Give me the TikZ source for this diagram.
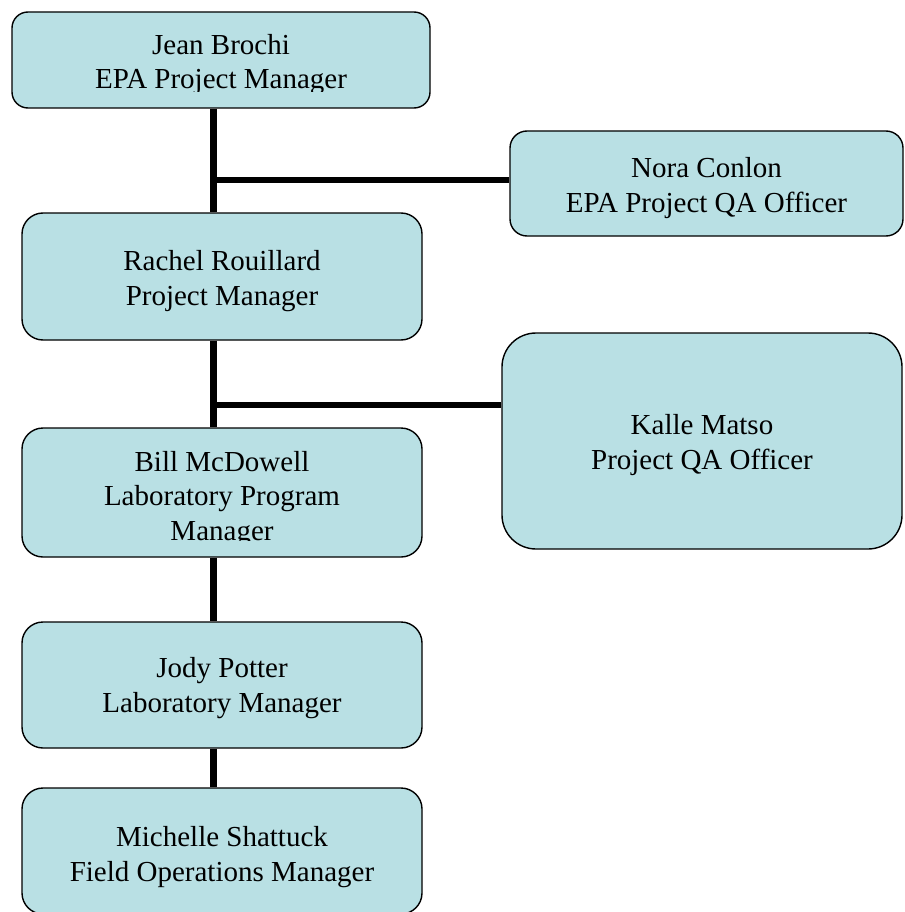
\documentclass[tikz,border=0pt]{standalone}
\usepackage{fontspec}
\setmainfont{Liberation Serif}
\usetikzlibrary{backgrounds}
\definecolor{boxfill}{RGB}{185,224,228}
\tikzset{
  orgbox/.style={draw=black, line width=1.4pt, fill=boxfill, rounded corners=#1, inner sep=0pt},
  orgbox/.default=21pt,
  orgtext/.style={align=center, anchor=base, inner sep=0pt, font=\fontsize{29}{34.5}\selectfont},
  link/.style={line width=6.8pt, black}
}
\begin{document}
\begin{tikzpicture}[x=1pt,y=-1pt]
\useasboundingbox (0,0) rectangle (904,912);
% boxes
\node[orgbox=16pt, minimum width=418pt, minimum height=96pt] (jean) at (221,60) {};
\node[orgbox=17pt, minimum width=393pt, minimum height=105pt] (nora) at (706.5,183.5) {};
\node[orgbox=21pt, minimum width=400pt, minimum height=127pt] (rachel) at (222,276.5) {};
\node[orgbox=34pt, minimum width=400pt, minimum height=216pt] (kalle) at (702,441) {};
\node[orgbox=21pt, minimum width=400pt, minimum height=129pt] (bill) at (222,492.5) {};
\node[orgbox=21pt, minimum width=400pt, minimum height=126pt] (jody) at (222,685) {};
\node[orgbox=21pt, minimum width=400pt, minimum height=126pt] (michelle) at (222,851) {};
% texts (base anchor = baseline of the last line)
\begin{scope}
\clip (jean.north west) rectangle ([yshift=17pt]jean.south east);
\node[orgtext] (jeanT) at (221,89) {Jean Brochi\\EPA Project Manager};
\end{scope}
\node[orgtext] (noraT) at (706.5,212) {Nora Conlon\\EPA Project QA Officer};
\node[orgtext] (rachelT) at (222,305) {Rachel Rouillard\\Project Manager};
\node[orgtext] (kalleT) at (702,469) {Kalle Matso\\Project QA Officer};
\begin{scope}
\clip (bill.north west) rectangle ([yshift=17pt]bill.south east);
\node[orgtext] (billT) at (222,540) {Bill McDowell\\Laboratory Program\\Manager};
\end{scope}
\node[orgtext] (jodyT) at (222,712) {Jody Potter\\Laboratory Manager};
\node[orgtext] (michelleT) at (222,881) {Michelle Shattuck\\Field Operations Manager};
% connectors
\coordinate (trunk) at (213.5,0);
\coordinate (jn) at (213.5,180);
\coordinate (jk) at (213.5,405);
\begin{scope}[on background layer]
\fill[white] (0,0) rectangle (904,912);
\draw[link] (jean.south -| trunk) -- (rachel.north -| trunk);
\draw[link] (jn) -- (jn -| nora.west);
\draw[link] (rachel.south -| trunk) -- (bill.north -| trunk);
\draw[link] (jk) -- (jk -| kalle.west);
\draw[link] (bill.south -| trunk) -- (jody.north -| trunk);
\draw[link] (jody.south -| trunk) -- (michelle.north -| trunk);
\end{scope}
\end{tikzpicture}
\end{document}
